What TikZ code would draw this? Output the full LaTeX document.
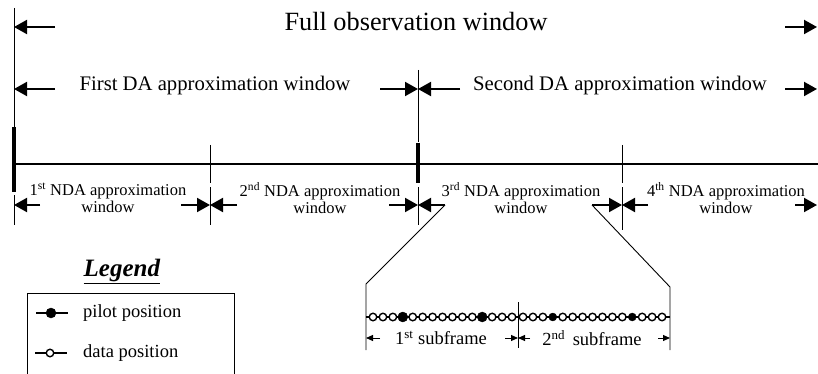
\documentclass[tikz,border=0pt]{standalone}
\usepackage{fontspec}
\setmainfont{Liberation Serif}
\usetikzlibrary{positioning,arrows.meta,calc}

\begin{document}
\begin{tikzpicture}[x=1pt,y=-1pt, every node/.style={inner sep=0pt, align=center}]
\tikzset{
  dim/.style={-{Triangle[length=13pt,width=14pt]}, line width=2pt},
  subdim/.style={-{Triangle[length=7pt,width=6pt]}, line width=1pt},
  guide/.style={line width=0.9pt},
  bar/.style={line width=4.5pt},
  bigfont/.style={font=\fontsize{26.3}{30}\selectfont},
  dafont/.style={font=\fontsize{20.7}{24}\selectfont},
  ndafont/.style={font=\fontsize{16.5}{17}\selectfont},
  legfont/.style={font=\fontsize{18.5}{20}\selectfont},
  pilot/.style={circle, draw, fill=black, minimum size=10pt},
  smallpilot/.style={circle, draw, fill=black, minimum size=8pt},
  datum/.style={circle, draw, fill=white, line width=1.4pt, minimum size=7.5pt}
}
\useasboundingbox (0,0) rectangle (818,374);

% window boundaries
\draw[guide] (14,8) -- (14,127);
\draw[bar] (14,127) -- (14,192);
\draw[guide] (14,195) -- (14,225);
\draw[guide] (210,145) -- (210,183);
\draw[guide] (210,187) -- (210,225);
\draw[guide] (418,70) -- (418,142);
\draw[bar] (418,143) -- (418,183);
\draw[guide] (418,187) -- (418,225);
\draw[guide] (622,145) -- (622,183);
\draw[guide] (622,187) -- (622,230);

% time axis
\coordinate (axisL) at (14,164);
\coordinate (axisR) at (818,164);
\draw[line width=1.3pt] (axisL) -- (axisR);

% full window
\node[bigfont] (full) at (416,22) {Full observation window};
\coordinate (fullLa) at (55,27);  \coordinate (fullLb) at (14,27);
\coordinate (fullRa) at (785,27); \coordinate (fullRb) at (817,27);
\draw[dim] (fullLa) -- (fullLb);
\draw[dim] (fullRa) -- (fullRb);

% DA windows
\node[dafont] (da1) at (215,86) {First DA approximation window};
\node[dafont] (da2) at (620,86) {Second DA approximation window};
\foreach \a/\b [count=\i] in {55/14, 380/418, 460/418, 785/817} {
  \coordinate (dat\i) at (\a,89);
  \coordinate (dah\i) at (\b,89);
  \draw[dim] (dat\i) -- (dah\i);
}

% NDA windows
\node[ndafont] (nda1) at (108,198) {1\textsuperscript{st} NDA approximation\\window};
\node[ndafont] (nda2) at (320,198) {2\textsuperscript{nd} NDA approximation\\window};
\node[ndafont] (nda3) at (521,198) {3\textsuperscript{rd} NDA approximation\\window};
\node[ndafont] (nda4) at (726,198) {4\textsuperscript{th} NDA approximation\\window};
\foreach \a/\b [count=\i] in {40/14, 181/210, 237/210, 389/418, 445/418, 592/622, 648/622, 795/817} {
  \coordinate (ndat\i) at (\a,205);
  \coordinate (ndah\i) at (\b,205);
  \draw[dim] (ndat\i) -- (ndah\i);
}

% zoom into the 3rd NDA window
\coordinate (frameL) at (366,317);
\coordinate (frameR) at (670,317);
\draw[guide] (ndat5) -- (366,284) -- (366,350);
\draw[guide] (ndat6) -- (670,287) -- (670,350);
\draw[guide] (518,302) -- (518,348);
\draw[line width=1.2pt] (frameL) -- (frameR);
\foreach \s [count=\k from 0] in {datum,datum,datum,pilot,datum,datum,datum,datum,datum,datum,datum,pilot,datum,datum,datum}
  \node[\s] (sa\k) at ({373+9.93*\k},317) {};
\foreach \s [count=\k from 0] in {datum,datum,datum,smallpilot,datum,datum,datum,datum,datum,datum,datum,smallpilot,datum,datum,datum}
  \node[\s] (sb\k) at ({523+9.93*\k},317) {};

% subframes
\node[legfont] (sub1) at (441,338) {1\textsuperscript{st} subframe};
\node[legfont] (sub2) at (592,338) {2\textsuperscript{nd}\, subframe};
\foreach \a/\b [count=\i] in {380/366, 505/518, 530/518, 658/670} {
  \coordinate (subt\i) at (\a,338);
  \coordinate (subh\i) at (\b,338);
  \draw[subdim] (subt\i) -- (subh\i);
}

% legend
\node[font=\fontsize{25}{28}\selectfont] (legtitle) at (122,271) {\underline{\textbf{\textit{Legend}}}};
\draw[guide] (27,374) |- (234,293) -- (234,374);
\coordinate (lpa) at (36,313); \coordinate (lpb) at (68,313);
\draw[line width=1.2pt] (lpa) -- (lpb);
\node[pilot] (lpdot) at (51,313) {};
\node[legfont, anchor=west] (lptext) at (83,313) {pilot position};
\coordinate (lda) at (35,353); \coordinate (ldb) at (67,353);
\draw[line width=1.2pt] (lda) -- (ldb);
\node[datum] (lddot) at (50,353) {};
\node[legfont, anchor=west] (ldtext) at (83,353) {data position};
\end{tikzpicture}
\end{document}
